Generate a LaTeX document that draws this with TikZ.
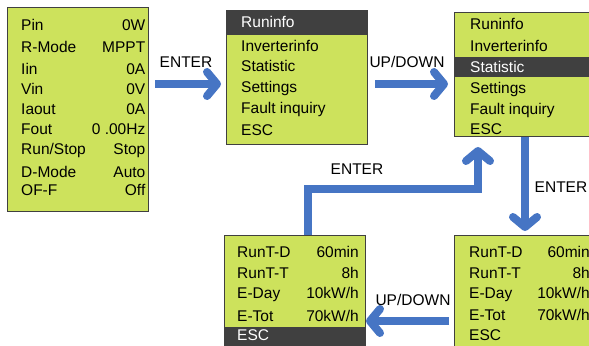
\documentclass[tikz,border=0pt]{standalone}
\usepackage{fontspec}
\setmainfont{Liberation Sans}
\usetikzlibrary{arrows.meta}
\definecolor{lcd}{RGB}{205,226,92}
\definecolor{band}{RGB}{64,64,64}
\definecolor{arrowblue}{RGB}{70,117,196}
\begin{document}
\begin{tikzpicture}[x=1bp,y=-1bp,
  screen/.style={draw=black!75, line width=0.8bp, fill=lcd, inner sep=0pt, anchor=north west},
  bandbox/.style={fill=band, draw=none, inner sep=0pt, anchor=north west},
  txt/.style={font=\fontsize{15.5bp}{18bp}\selectfont, inner sep=0pt, text height=11bp, text depth=0pt},
  lt/.style={txt, anchor=west},
  rt/.style={txt, anchor=east},
  wt/.style={txt, anchor=west, text=white},
  lab/.style={txt, anchor=center},
  flow/.style={draw=arrowblue, line width=8bp, line join=miter,
    -{Straight Barb[length=10bp, width=24bp, round]}}]
\useasboundingbox (0,0) rectangle (589,345);
\clip (0,0) rectangle (589,345);

% ---------- screen 1 ----------
\node[screen, minimum width=141bp, minimum height=204bp] (s1) at (7,7) {};
\foreach \k/\y/\a/\b in {1/25.3/Pin/0W, 2/47/R-Mode/MPPT, 3/68.7/Iin/0A, 4/88.7/Vin/0V,
  5/109/Iaout/0A, 6/129/Fout/0 .00Hz, 7/148.7/Run\slash Stop/Stop, 8/172/D-Mode/Auto, 9/190/OF-F/Off}{
  \node[lt] (s1l\k) at (21,\y) {\a};
  \node[rt] (s1r\k) at (145.5,\y) {\b};
}

% ---------- screen 2 ----------
\node[screen, minimum width=141bp, minimum height=134bp] (s2) at (226,10) {};
\node[bandbox, minimum width=140.2bp, minimum height=24bp] (s2h) at (226.4,10.4) {};
\draw[black!75, line width=0.8bp] (s2.north west) rectangle (s2.south east);
\node[wt] (s2t1) at (241,22.3) {Runinfo};
\foreach \k/\y/\a in {2/45.8/Inverterinfo, 3/66/Statistic, 4/87/Settings, 5/108/Fault inquiry, 6/129.5/ESC}{
  \node[lt] (s2t\k) at (241,\y) {\a};
}

% ---------- screen 3 ----------
\node[screen, minimum width=146bp, minimum height=124bp] (s3) at (454,12) {};
\node[bandbox, minimum width=145bp, minimum height=20bp] (s3h) at (454.4,57) {};
\node[wt] (s3t3) at (470,67) {Statistic};
\foreach \k/\y/\a in {1/24/Runinfo, 2/46/Inverterinfo, 4/88/Settings, 5/109/Fault inquiry, 6/129/ESC}{
  \node[lt] (s3t\k) at (470,\y) {\a};
}

% ---------- screen 4 ----------
\node[screen, minimum width=141bp, minimum height=120bp] (s4) at (224,235) {};
\node[bandbox, minimum width=140.2bp, minimum height=25bp] (s4h) at (224.4,327) {};
\foreach \k/\y/\a/\b in {1/252/RunT-D/60min, 2/273/RunT-T/8h, 3/293/E-Day/10kW\slash h, 4/315.5/E-Tot/70kW\slash h}{
  \node[lt] (s4l\k) at (237,\y) {\a};
  \node[rt] (s4r\k) at (359,\y) {\b};
}
\node[wt] (s4l5) at (237,335) {ESC};

% ---------- screen 5 ----------
\node[screen, minimum width=146bp, minimum height=120bp] (s5) at (454,235) {};
\foreach \k/\y/\a/\b in {1/252/RunT-D/60min, 2/272.7/RunT-T/8h, 3/293/E-Day/10kW\slash h, 4/315/E-Tot/70kW\slash h}{
  \node[lt] (s5l\k) at (469,\y) {\a};
  \node[rt] (s5r\k) at (590,\y) {\b};
}
\node[lt] (s5l5) at (469,335) {ESC};

% ---------- connectors ----------
\coordinate (a1s) at (155,84);
\coordinate (a1e) at (221,84);
\draw[flow] (a1s) -- (a1e);
\node[lab] (l1) at (186,62) {ENTER};

\coordinate (a2s) at (375,84);
\coordinate (a2e) at (448,84);
\draw[flow] (a2s) -- (a2e);
\node[lab] (l2) at (407,62) {UP/DOWN};

\coordinate (a3s) at (525,137);
\coordinate (a3e) at (525,231);
\draw[flow] (a3s) -- (a3e);
\node[lab] (l3) at (561,187) {ENTER};

\coordinate (a4s) at (307.5,235);
\coordinate (a4e) at (478,147);
\draw[flow] (a4s) -- (307.5,189) -- (478,189) -- (a4e);
\node[lab] (l4) at (357,169) {ENTER};

\coordinate (a5s) at (449,321);
\coordinate (a5e) at (366,321);
\draw[flow] (a5s) -- (a5e);
\node[lab] (l5) at (413,300) {UP/DOWN};
\end{tikzpicture}
\end{document}
